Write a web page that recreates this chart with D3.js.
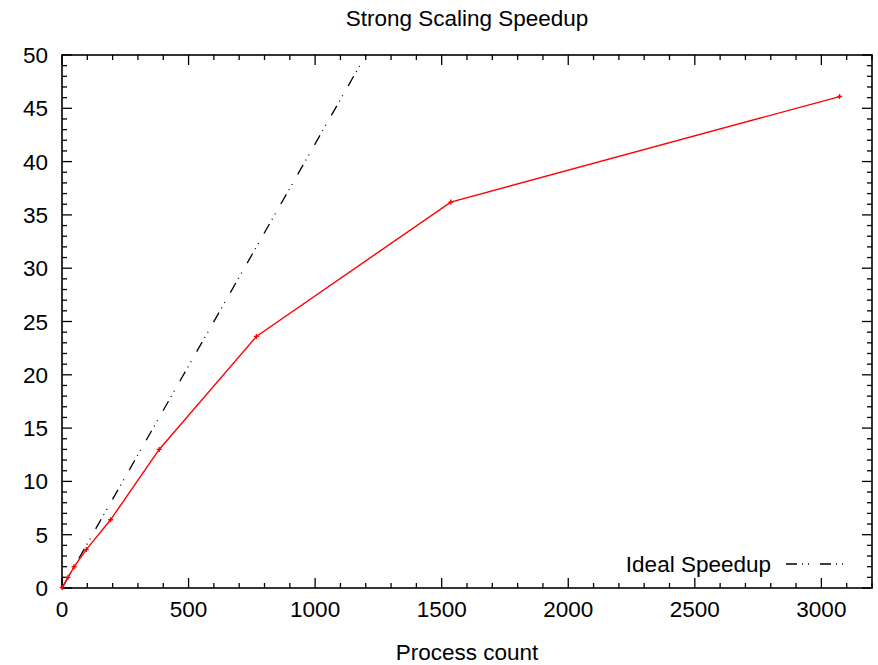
<!doctype html>
<html>
  <head>
    <meta charset="utf-8">
    <title>Strong Scaling Speedup</title>
    <style>
      body { margin: 0; background: #fff; }
      text { font-family: "Liberation Sans", Arial, sans-serif; fill: #000; }
    </style>
  </head>
  <body>
    <div id="chart"></div>
    <script src="https://d3js.org/d3.v7.min.js"></script>
    <script>
      // measured run
      var processes = [1, 24, 48, 96, 192, 384, 768, 1536, 3072];
      var speedup = [0.04, 1.0, 2.0, 3.6, 6.4, 13.0, 23.6, 36.2, 46.1];
      // ideal speedup line end points
      var idealProcesses = [0, 1200];
      var idealSpeedup = [0, 50];
      var xTicks = [0, 500, 1000, 1500, 2000, 2500, 3000];
      var yTicks = [0, 5, 10, 15, 20, 25, 30, 35, 40, 45, 50];

      var width = 878, height = 665;
      var margin = {top: 55, right: 6, bottom: 77, left: 62};
      var fs = '22.5px';

      var svg = d3.select('#chart')
        .append('svg')
        .attr('width', width)
        .attr('height', height);

      var x = d3.scaleLinear()
        .domain([0, 3200])
        .range([margin.left, width - margin.right]);
      var y = d3.scaleLinear()
        .domain([0, 50])
        .range([height - margin.bottom, margin.top]);

      var xMinor = d3.range(0, 3201, 100);
      var yMinor = d3.range(0, 51, 1);

      // ticks on all four sides, pointing in
      var g = svg.append('g').attr('stroke', '#000').attr('stroke-width', 1.3);
      function tickLen(v, majors, big, small) {
        return majors.indexOf(v) >= 0 ? big : small;
      }
      xMinor.forEach(function(v) {
        var l = tickLen(v, xTicks, 10, 5);
        g.append('line').attr('x1', x(v)).attr('x2', x(v))
          .attr('y1', y(0)).attr('y2', y(0) - l);
        g.append('line').attr('x1', x(v)).attr('x2', x(v))
          .attr('y1', y(50)).attr('y2', y(50) + l);
      });
      yMinor.forEach(function(v) {
        var l = tickLen(v, yTicks, 10, 5);
        g.append('line').attr('x1', x(0)).attr('x2', x(0) + l)
          .attr('y1', y(v)).attr('y2', y(v));
        g.append('line').attr('x1', x(3200)).attr('x2', x(3200) - l)
          .attr('y1', y(v)).attr('y2', y(v));
      });

      svg.append('rect')
        .attr('x', x(0)).attr('y', y(50))
        .attr('width', x(3200) - x(0)).attr('height', y(0) - y(50))
        .attr('fill', 'none').attr('stroke', '#000').attr('stroke-width', 1.6);

      svg.selectAll('.xlab').data(xTicks).enter().append('text')
        .attr('x', function(d) { return x(d); })
        .attr('y', y(0) + 29)
        .attr('text-anchor', 'middle')
        .style('font-size', fs)
        .text(function(d) { return d; });

      svg.selectAll('.ylab').data(yTicks).enter().append('text')
        .attr('x', x(0) - 14)
        .attr('y', function(d) { return y(d) + 8; })
        .attr('text-anchor', 'end')
        .style('font-size', fs)
        .text(function(d) { return d; });

      svg.append('text')
        .attr('x', (x(0) + x(3200)) / 2).attr('y', 26)
        .attr('text-anchor', 'middle')
        .style('font-size', fs)
        .text('Strong Scaling Speedup');

      svg.append('text')
        .attr('x', (x(0) + x(3200)) / 2).attr('y', 660)
        .attr('text-anchor', 'middle')
        .style('font-size', fs)
        .text('Process count');

      var dash = '11,5,1,5,1,11';
      var line = d3.line()
        .x(function(d) { return x(d[0]); })
        .y(function(d) { return y(d[1]); });

      svg.append('path')
        .datum(d3.zip(idealProcesses, idealSpeedup))
        .attr('d', line)
        .attr('fill', 'none')
        .attr('stroke', '#000')
        .attr('stroke-width', 1.3)
        .attr('stroke-dasharray', dash);

      var pts = d3.zip(processes, speedup);
      svg.append('path')
        .datum(pts)
        .attr('d', line)
        .attr('fill', 'none')
        .attr('stroke', '#ff0000')
        .attr('stroke-width', 1.4);

      svg.selectAll('.pt').data(pts).enter().append('path')
        .attr('d', function(d) {
          var cx = x(d[0]), cy = y(d[1]), r = 2.5;
          return 'M' + (cx - r) + ',' + cy + 'H' + (cx + r) +
            'M' + cx + ',' + (cy - r) + 'V' + (cy + r);
        })
        .attr('stroke', '#ff0000')
        .attr('stroke-width', 1.4);

      // legend
      svg.append('text')
        .attr('x', 771).attr('y', 572)
        .attr('text-anchor', 'end')
        .style('font-size', fs)
        .text('Ideal Speedup');
      svg.append('line')
        .attr('x1', 786).attr('x2', 847)
        .attr('y1', 564).attr('y2', 564)
        .attr('stroke', '#000')
        .attr('stroke-width', 1.3)
        .attr('stroke-dasharray', dash);
    </script>
  </body>
</html>
